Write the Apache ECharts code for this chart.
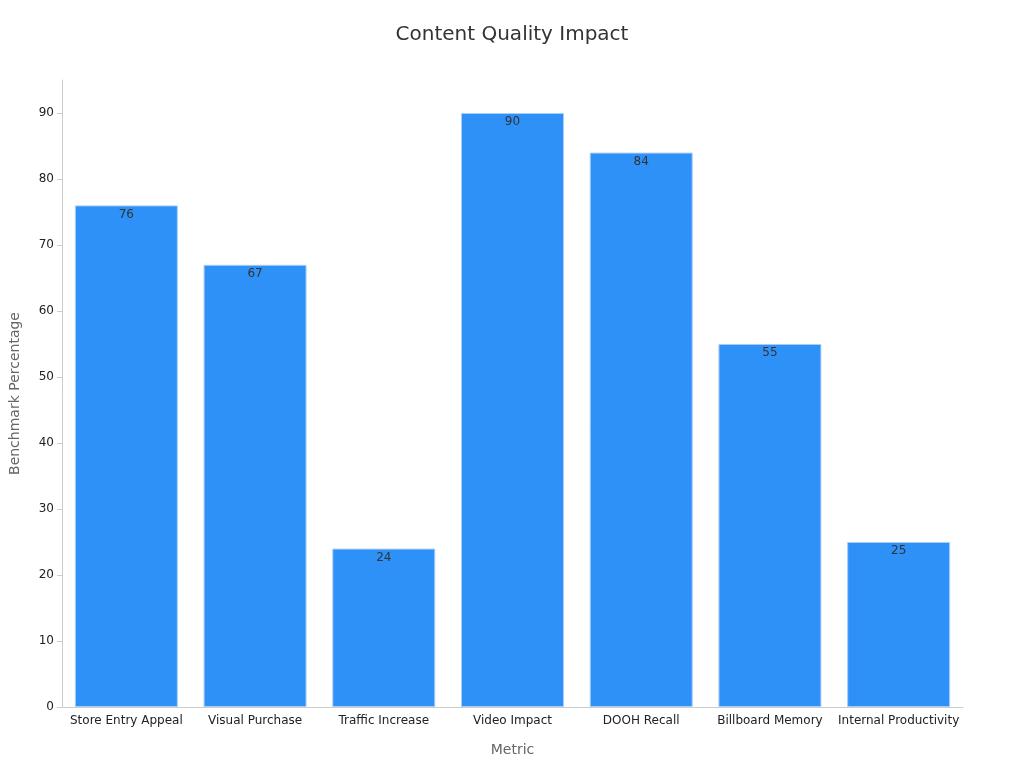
<!DOCTYPE html>
<html><head><meta charset="utf-8">
<script src="https://cdn.jsdelivr.net/npm/echarts@6/dist/echarts.min.js"></script>
<style>html,body{margin:0;padding:0;background:#fff}#c{width:1024px;height:768px}</style>
</head><body><div id="c"></div>
<script>
const categories = ["Store Entry Appeal","Visual Purchase","Traffic Increase","Video Impact","DOOH Recall","Billboard Memory","Internal Productivity"];
const values = [76, 67, 24, 90, 84, 55, 25];
const chart = echarts.init(document.getElementById('c'));
chart.setOption({
  backgroundColor: '#fff',
  textStyle: {fontFamily: 'DejaVu Sans'},
  title: {text: 'Content Quality Impact', left: 'center', top: 20,
    textStyle: {fontSize: 20, fontWeight: 'normal', color: '#333', fontFamily: 'DejaVu Sans'}},
  grid: {left: 59, right: 61, top: 80, bottom: 61, containLabel: false},
  xAxis: {type: 'category', data: categories, name: 'Metric', nameLocation: 'middle', nameGap: 36,
    nameTextStyle: {color: '#666', fontSize: 14},
    axisLine: {lineStyle: {color: '#ccc'}}, axisTick: {show: false},
    axisLabel: {color: '#222', fontSize: 12, interval: 0}},
  yAxis: {type: 'value', min: 0, max: 95, interval: 10, name: 'Benchmark Percentage',
    nameLocation: 'middle', nameGap: 40, nameTextStyle: {color: '#666', fontSize: 14},
    axisLine: {show: true, lineStyle: {color: '#ccc'}}, axisTick: {show: true, lineStyle: {color: '#ccc'}},
    splitLine: {show: false}, axisLabel: {color: '#222', fontSize: 12, showMaxLabel: false}},
  series: [{type: 'bar', data: values, barCategoryGap: '20%',
    itemStyle: {color: '#2e91f8', borderColor: '#a9cdf5', borderWidth: 1},
    label: {show: true, position: 'insideTop', color: '#333', fontSize: 12, offset: [0, -2]}}]
});
</script></body></html>
